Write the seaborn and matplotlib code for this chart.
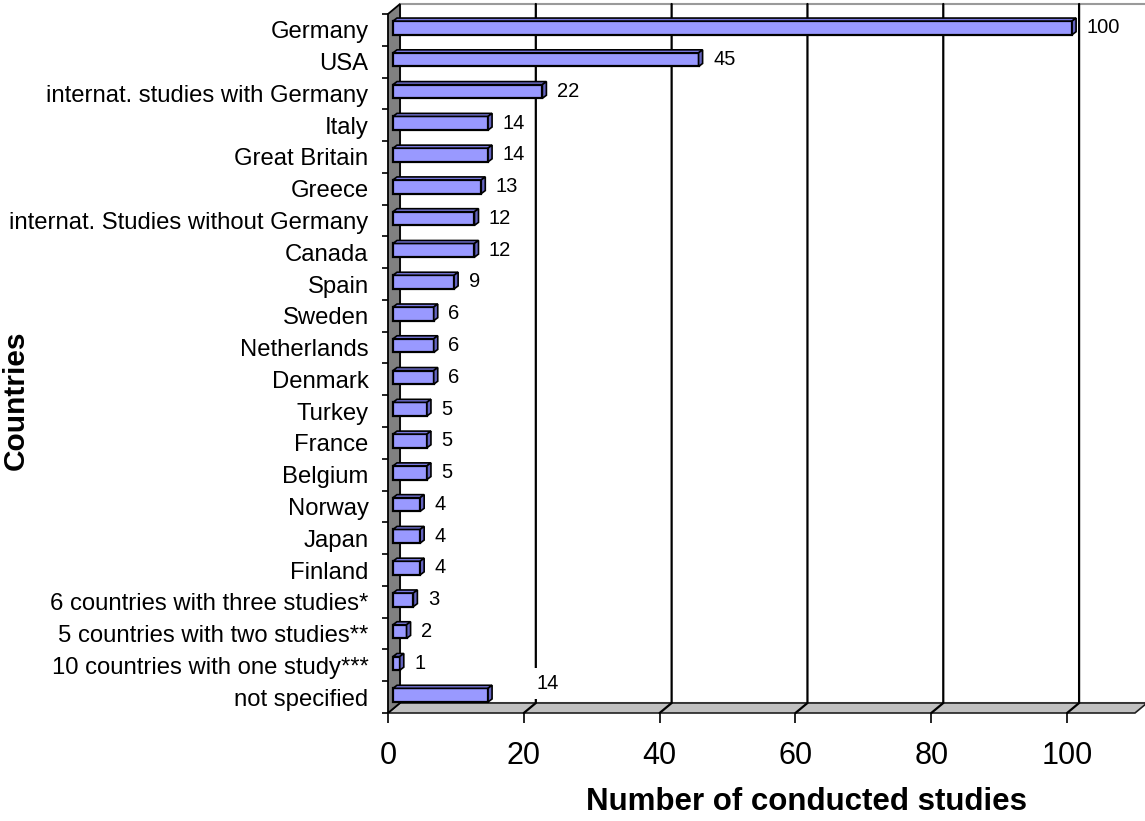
import numpy as np
import matplotlib
matplotlib.use("Agg")
import matplotlib.pyplot as plt
from matplotlib.patches import Polygon
from matplotlib.transforms import ScaledTranslation
import seaborn as sns

# Studies per country
countries = [
    "Germany", "USA", "internat. studies with Germany", "Italy", "Great Britain",
    "Greece", "internat. Studies without Germany", "Canada", "Spain", "Sweden",
    "Netherlands", "Denmark", "Turkey", "France", "Belgium", "Norway", "Japan",
    "Finland", "6 countries with three studies*", "5 countries with two studies**",
    "10 countries with one study***", "not specified",
]
studies = [100, 45, 22, 14, 14, 13, 12, 12, 9, 6, 6, 6, 5, 5, 5, 4, 4, 4, 3, 2, 1, 14]
x_ticks = [0, 20, 40, 60, 80, 100]

sns.set_style("white")
plt.rcParams["font.family"] = ["Liberation Sans", "DejaVu Sans"]
plt.rcParams["text.color"] = "black"
plt.rcParams["xtick.color"] = "black"
plt.rcParams["ytick.color"] = "black"

DPI = 100
fig = plt.figure(figsize=(11.45, 8.21), dpi=DPI)
W, H = 1145, 821
# front plane of the plot area (pixels)
left_px, right_px, top_px, bot_px = 388, 1135, 14, 713
ax = fig.add_axes([left_px / W, 1 - bot_px / H, (right_px - left_px) / W, (bot_px - top_px) / H])

XMAX = 110
n = len(countries)
ax.set_xlim(0, XMAX)

BAR_FACE = "#9999FF"
BAR_TOP = "#7777DD"
BAR_SIDE = "#6464C0"

sns.barplot(x=studies, y=countries, orient="h", color=BAR_FACE, saturation=1,
            width=0.43, edgecolor="black", linewidth=1.6, ax=ax, zorder=5)
ax.set_ylim(n - 0.5, -0.5)
ax.set_xlim(0, XMAX)

# pixel -> data unit conversion
ux = XMAX / (right_px - left_px)
uy = n / (bot_px - top_px)

# wall depth (pixels)
wdx, wdy = 12 * ux, 10 * uy
y_top, y_bot = -0.5, n - 0.5

# back wall
ax.add_patch(Polygon([(wdx, y_top - wdy), (XMAX + wdx, y_top - wdy),
                      (XMAX + wdx, y_bot - wdy), (wdx, y_bot - wdy)],
                     closed=True, facecolor="white", edgecolor="#9a9a9a",
                     lw=1.5, zorder=0, clip_on=False))
# floor
ax.add_patch(Polygon([(0, y_bot), (XMAX, y_bot), (XMAX + wdx, y_bot - wdy),
                      (wdx, y_bot - wdy)], closed=True, facecolor="#C0C0C0",
                     edgecolor="#202020", lw=1.2, zorder=1, clip_on=False))
# left wall
ax.add_patch(Polygon([(0, y_top), (wdx, y_top - wdy), (wdx, y_bot - wdy),
                      (0, y_bot)], closed=True, facecolor="#808080",
                     edgecolor="black", lw=1.3, zorder=2, clip_on=False))

# gridlines on back wall, running down across the floor to the front ticks
for v in x_ticks[1:]:
    ax.plot([v + wdx, v + wdx, v], [y_top - wdy, y_bot - wdy, y_bot],
            color="black", lw=1.6, zorder=1.5, clip_on=False,
            solid_joinstyle="miter")

# shift bars to their depth position and add top/side faces
bar_off = ax.transData + ScaledTranslation(5 / DPI, 2 / DPI, fig.dpi_scale_trans)
bdx, bdy = 4 * ux, 3 * uy
for p in list(ax.patches):
    if p.get_zorder() != 5:
        continue
    p.set_transform(bar_off)
    x0, y0 = p.get_x(), p.get_y()
    x1 = x0 + p.get_width()
    yt = min(y0, y0 + p.get_height())
    yb = max(y0, y0 + p.get_height())
    top_face = Polygon([(x0, yt), (x1, yt), (x1 + bdx, yt - bdy), (x0 + bdx, yt - bdy)],
                       closed=True, facecolor=BAR_TOP, edgecolor="black", lw=1.2,
                       zorder=5, transform=bar_off)
    side_face = Polygon([(x1, yt), (x1, yb), (x1 + bdx, yb - bdy), (x1 + bdx, yt - bdy)],
                        closed=True, facecolor=BAR_SIDE, edgecolor="black", lw=1.2,
                        zorder=5, transform=bar_off)
    ax.add_patch(top_face)
    ax.add_patch(side_face)

# value labels
for i, v in enumerate(studies):
    if i == n - 1:
        # last label sits higher, on a white box above the floor
        ax.annotate(f"{v}", (20, i), xytext=(9, 9.5), textcoords="offset points",
                    ha="left", va="center", fontsize=14.5, zorder=1.8,
                    bbox=dict(boxstyle="square,pad=0.3", facecolor="white", edgecolor="none"))
    else:
        ax.annotate(f"{v}", (v, i), xytext=(14, 1.5), textcoords="offset points",
                    ha="left", va="center", fontsize=14.5, zorder=6)

for s in ax.spines.values():
    s.set_visible(False)

ax.set_xticks(x_ticks)
ax.set_xticklabels([str(t) for t in x_ticks], fontsize=22)
ax.tick_params(axis="x", direction="out", length=7, width=1.2, pad=13, bottom=True)
ax.set_yticks(np.arange(n))
ax.set_yticklabels(countries, fontsize=17.2)
ax.set_yticks(np.arange(n + 1) - 0.5, minor=True)
ax.tick_params(axis="y", which="major", length=0, pad=14)
ax.tick_params(axis="y", which="minor", direction="out", length=4.5, width=1.2, left=True)
ax.set_xlabel("")
ax.set_ylabel("")
ax.grid(False)

fig.text(806 / W, 1 - 802 / H, "Number of conducted studies", ha="center", va="center",
         fontsize=22.5, fontweight="bold")
fig.text(16 / W, 1 - 400 / H, "Countries", ha="center", va="center",
         fontsize=21.5, fontweight="bold", rotation=90)

fig.savefig("out.png", dpi=DPI, facecolor="white")
